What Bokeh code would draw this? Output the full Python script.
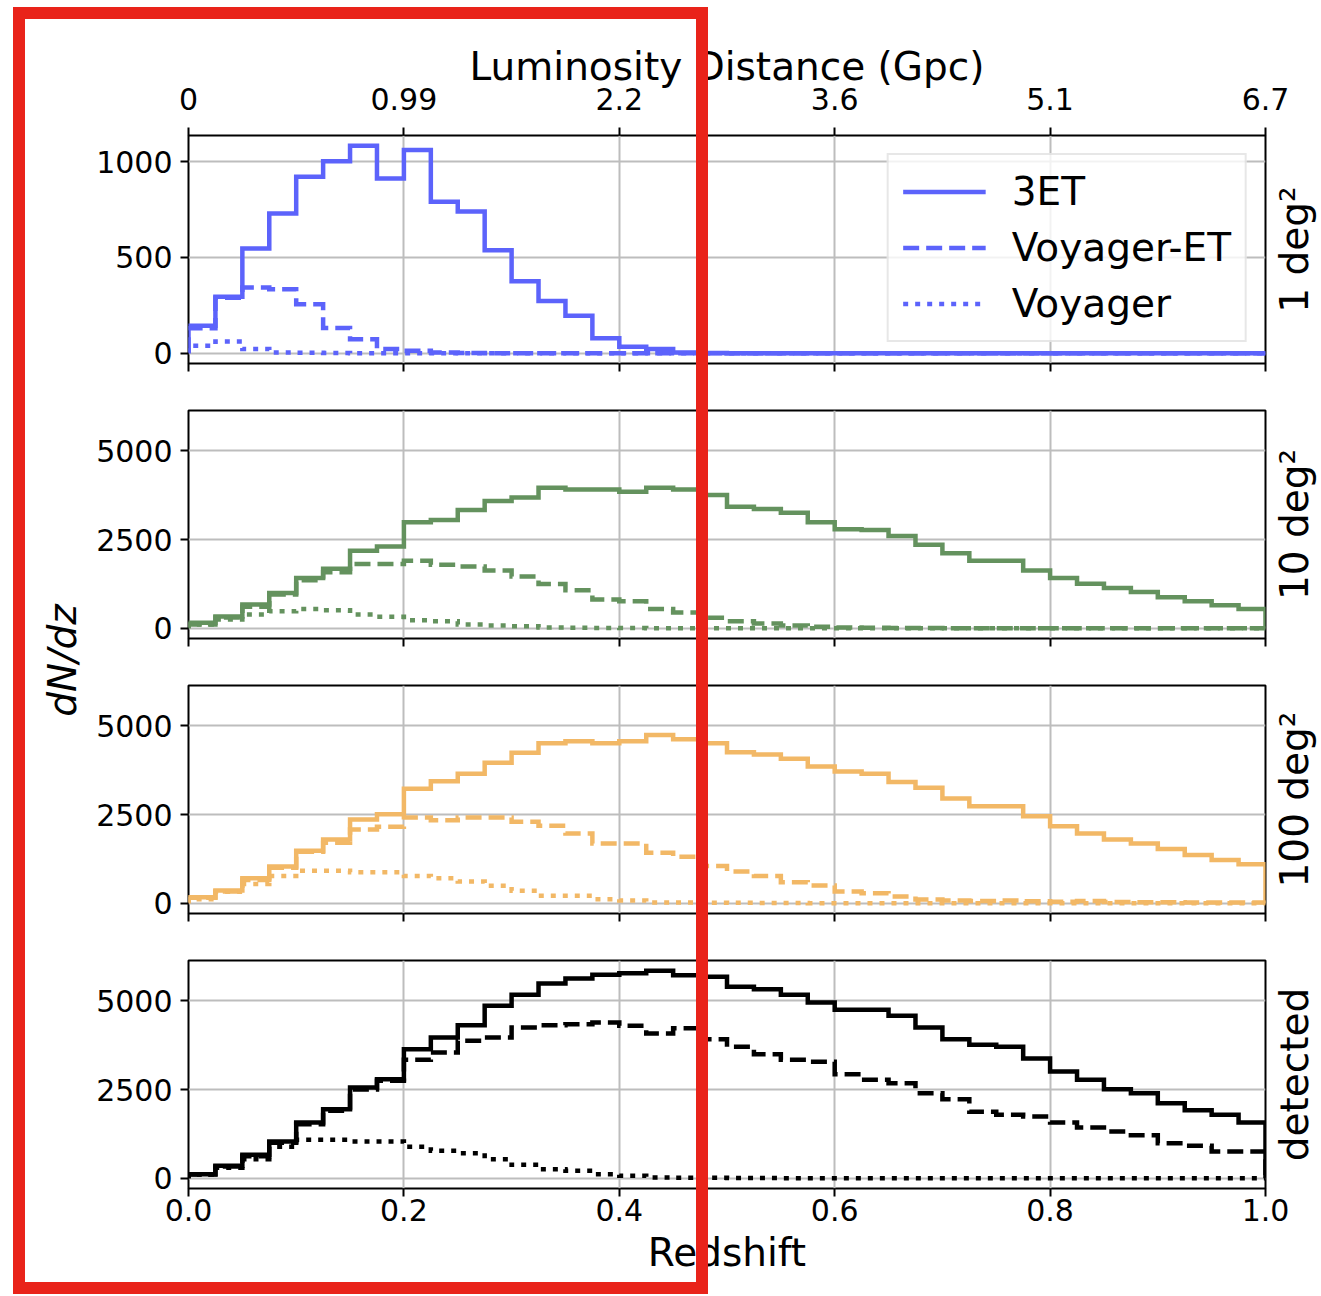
import numpy as np
from bokeh.plotting import figure
from bokeh.models import (Range1d, LinearAxis, FixedTicker, Legend, LegendItem, Label, Div)
from bokeh.layouts import row, column
from bokeh.embed import file_html
from bokeh.resources import INLINE

# ---------------- data ----------------
z_edges = [round(0.025 * k, 3) for k in range(41)]
z_ticks = [0.0, 0.2, 0.4, 0.6, 0.8, 1.0]
z_tick_labels = ["0.0", "0.2", "0.4", "0.6", "0.8", "1.0"]
dl_tick_labels = ["0", "0.99", "2.2", "3.6", "5.1", "6.7"]
panel_names = ["1 deg²", "10 deg²", "100 deg²", "detected"]
series_names = ["3ET", "Voyager-ET", "Voyager"]

et3_1 = [143, 294, 547, 730, 921, 1002, 1083, 913, 1061, 791, 740, 538, 375, 273, 195, 78, 33, 21, 3, 1,
         0, 0, 0, 0, 0, 0, 0, 0, 0, 0, 0, 0, 0, 0, 0, 0, 0, 0, 0, 0]
voyet_1 = [130, 290, 343, 334, 256, 131, 73, 21, 12, 3, 1, 0, 0, 0, 0, 0, 0, 0, 0, 0,
           0, 0, 0, 0, 0, 0, 0, 0, 0, 0, 0, 0, 0, 0, 0, 0, 0, 0, 0, 0]
voy_1 = [38, 61, 21, 3, 2, 1, 0, 0, 0, 0, 0, 0, 0, 0, 0, 0, 0, 0, 0, 0,
         0, 0, 0, 0, 0, 0, 0, 0, 0, 0, 0, 0, 0, 0, 0, 0, 0, 0, 0, 0]

et3_10 = [150, 330, 665, 992, 1413, 1675, 2181, 2302, 2985, 3050, 3332, 3585, 3688, 3960, 3913, 3913, 3847, 3960,
          3913, 3753, 3426, 3360, 3257, 2986, 2789, 2770, 2602, 2349, 2115, 1900, 1900, 1629, 1413, 1254, 1133,
          1020, 870, 758, 646, 543]
voyet_10 = [100, 300, 600, 950, 1350, 1580, 1806, 1806, 1900, 1788, 1741, 1629, 1460, 1245, 1067, 805, 758, 543,
            440, 290, 197, 131, 75, 37, 15, 8, 4, 2, 0, 0, 0, 0, 0, 0, 0, 0, 0, 0, 0, 0]
voy_10 = [103, 243, 384, 477, 543, 505, 384, 318, 225, 197, 103, 75, 56, 20, 10, 5, 3, 0, 0, 0,
          0, 0, 0, 0, 0, 0, 0, 0, 0, 0, 0, 0, 0, 0, 0, 0, 0, 0, 0, 0]

et3_100 = [168, 356, 702, 1030, 1479, 1797, 2359, 2509, 3229, 3435, 3650, 3959, 4240, 4512, 4568, 4512, 4568,
           4746, 4624, 4512, 4259, 4193, 4072, 3856, 3716, 3650, 3416, 3257, 2949, 2734, 2734, 2453, 2172, 1966,
           1797, 1685, 1526, 1358, 1217, 1096]
voyet_100 = [150, 330, 650, 1000, 1450, 1704, 2078, 2153, 2415, 2340, 2415, 2415, 2293, 2181, 1966, 1685, 1685,
             1423, 1310, 1048, 889, 768, 590, 496, 328, 281, 187, 100, 75, 60, 75, 50, 40, 60, 30, 25, 25, 20,
             20, 20]
voy_100 = [110, 320, 543, 768, 917, 917, 870, 870, 768, 702, 608, 487, 346, 206, 206, 112, 75, 19, 15, 10,
           8, 5, 3, 0, 0, 0, 0, 0, 0, 0, 0, 0, 0, 0, 0, 0, 0, 0, 0, 0]

et3_det = [113, 348, 658, 1034, 1570, 1946, 2557, 2792, 3638, 3967, 4315, 4860, 5170, 5490, 5631, 5734, 5781,
           5847, 5725, 5678, 5396, 5330, 5170, 4954, 4747, 4747, 4578, 4249, 3920, 3760, 3704, 3375, 3008, 2773,
           2510, 2397, 2115, 1917, 1786, 1570]
voyet_det = [100, 330, 620, 1000, 1520, 1900, 2500, 2750, 3337, 3544, 3873, 3967, 4249, 4315, 4343, 4390, 4296,
             4080, 4230, 3920, 3704, 3497, 3337, 3281, 2933, 2773, 2679, 2397, 2228, 1871, 1786, 1739, 1570, 1429,
             1316, 1213, 987, 912, 752, 752]
voy_det = [100, 290, 536, 884, 1081, 1081, 1034, 1034, 884, 771, 705, 536, 376, 254, 207, 113, 66, 20, 10, 8,
           5, 3, 0, 0, 0, 0, 0, 0, 0, 0, 0, 0, 0, 0, 0, 0, 0, 0, 0, 0]

panel_colors = ["#5c63fb", "#64925e", "#f2b866", "#000000"]
panel_data = [(et3_1, voyet_1, voy_1), (et3_10, voyet_10, voy_10),
              (et3_100, voyet_100, voy_100), (et3_det, voyet_det, voy_det)]
panel_yticks = [[0, 500, 1000], [0, 2500, 5000], [0, 2500, 5000], [0, 2500, 5000]]

# ---------------- layout constants ----------------
FONT = "DejaVu Sans"
BIG = "39px"
TICK = "30px"
W, H = 1321, 1296
LEFT_W = 88
PANEL_W = W - LEFT_W
FRAME_L = 188
FRAME_R = 1265
heights = [386, 275, 275, 360]
tops = [135, 24, 24, 24]
bottoms = [23, 23, 23, 108]
origins = [0, 386, 661, 936]
FRAME_H = 228
RED = "#e9231a"
LW = 4.5
dash_styles = ["solid", "16 7", "5 7"]
R_LEFT = 1271


def step_path(counts):
    xs = np.repeat(np.array(z_edges), 2)
    ys = np.concatenate([[0.0], np.repeat(np.array(counts, dtype=float), 2), [0.0]])
    return xs, ys


def style_axis(ax, labels=True, standoff=8):
    ax.major_tick_in = 0
    ax.major_tick_out = 8
    ax.major_tick_line_width = 2
    ax.major_tick_line_color = "black"
    ax.minor_tick_line_color = None
    ax.axis_line_color = None
    ax.major_label_text_font = FONT
    if labels:
        ax.major_label_text_color = "black"
        ax.major_label_text_font_size = TICK
        ax.major_label_standoff = standoff
    else:
        ax.major_label_text_color = None
        ax.major_label_text_font_size = "0px"
        ax.major_label_standoff = 0
    ax.axis_label_text_font = FONT
    ax.axis_label_text_font_size = BIG
    ax.axis_label_text_font_style = "normal"
    ax.axis_label_text_color = "black"


m1 = max(max(s) for s in panel_data[0])
m2 = max(max(s) for pd in panel_data[1:] for s in pd)

panels = []
for i in range(4):
    M = m1 if i == 0 else m2
    y0, y1 = -0.05 * M, 1.05 * M
    p = figure(width=PANEL_W, height=heights[i], x_range=Range1d(0, 1), y_range=Range1d(y0, y1),
               output_backend="svg", toolbar_location=None,
               min_border_left=FRAME_L - LEFT_W, min_border_right=W - FRAME_R,
               min_border_top=tops[i], min_border_bottom=bottoms[i])
    p.background_fill_color = "white"
    p.border_fill_color = "white"
    p.outline_line_color = "black"
    p.outline_line_width = 2

    p.xaxis.ticker = FixedTicker(ticks=z_ticks)
    p.xaxis.major_label_overrides = dict(zip(z_ticks, z_tick_labels))
    p.yaxis.ticker = FixedTicker(ticks=panel_yticks[i])
    style_axis(p.yaxis[0], True, 8)
    if i == 3:
        style_axis(p.xaxis[0], True, 2)
        p.xaxis.axis_label = "Redshift"
        p.xaxis.axis_label_standoff = 6
    else:
        style_axis(p.xaxis[0], False)

    if i == 0:
        top_ax = LinearAxis(ticker=FixedTicker(ticks=z_ticks),
                            major_label_overrides=dict(zip(z_ticks, dl_tick_labels)),
                            axis_label="Luminosity Distance (Gpc)")
        style_axis(top_ax, True, 18)
        top_ax.axis_label_standoff = -4
        p.add_layout(top_ax, "above")

    p.xgrid.grid_line_color = "#bdbdbd"
    p.xgrid.grid_line_width = 2
    p.ygrid.grid_line_color = "#bdbdbd"
    p.ygrid.grid_line_width = 2

    rends = []
    for s, dash in zip(panel_data[i], dash_styles):
        xs, ys = step_path(s)
        r = p.line(xs, ys, line_color=panel_colors[i], line_width=LW, line_dash=dash,
                   line_join="miter", line_cap="butt")
        rends.append(r)

    if i == 0:
        legend = Legend(items=[LegendItem(label=n, renderers=[r]) for n, r in zip(series_names, rends)],
                        location="top_right")
        legend.label_text_font = FONT
        legend.label_text_font_size = BIG
        legend.label_text_color = "black"
        legend.glyph_width = 83
        legend.glyph_height = 45
        legend.label_height = 45
        legend.label_standoff = 26
        legend.spacing = 11
        legend.padding = 14
        legend.margin = 18
        legend.border_line_color = "#d0d0d0"
        legend.border_line_width = 2
        legend.background_fill_alpha = 0.8
        p.add_layout(legend)
    panels.append(p)


def strip(width, styles=None):
    f = figure(width=width, height=H, x_range=Range1d(0, width), y_range=Range1d(0, H),
               output_backend="svg", toolbar_location=None,
               min_border_left=0, min_border_right=0, min_border_top=0, min_border_bottom=0,
               styles=styles or {})
    f.axis.visible = False
    f.grid.visible = False
    f.outline_line_color = None
    return f


# left strip with the shared y label
L = strip(LEFT_W)
L.background_fill_color = "white"
L.border_fill_color = "white"
L.add_layout(Label(x=62, y=H - 660, text="dN/dz", angle=np.pi / 2, text_align="center",
                   text_baseline="middle", text_font=FONT, text_font_size=BIG,
                   text_font_style="italic", text_color="black"))

# transparent right strip (overlaid) holding the rotated panel names
R = strip(W - R_LEFT, styles={"position": "absolute", "left": f"{R_LEFT}px", "top": "0px",
                              "margin": "0", "z-index": "5", "pointer-events": "none"})
R.background_fill_alpha = 0
R.border_fill_alpha = 0
for i in range(4):
    cy = origins[i] + tops[i] + FRAME_H / 2
    R.add_layout(Label(x=1294 - R_LEFT, y=H - cy, text=panel_names[i], angle=np.pi / 2,
                       text_align="center", text_baseline="middle", text_font=FONT,
                       text_font_size=BIG, text_color="black"))

# red highlight rectangle drawn over the whole page
red_box = Div(text="", width=695, height=1287,
              styles={"position": "absolute", "left": "13px", "top": "7px",
                      "width": "695px", "height": "1287px", "margin": "0",
                      "border": f"12px solid {RED}", "box-sizing": "border-box",
                      "pointer-events": "none", "z-index": "10", "background": "transparent"})

layout = column(row(L, column(*panels, spacing=0), spacing=0), R, red_box, spacing=0)
open("out.html", "w").write(file_html(layout, INLINE))
